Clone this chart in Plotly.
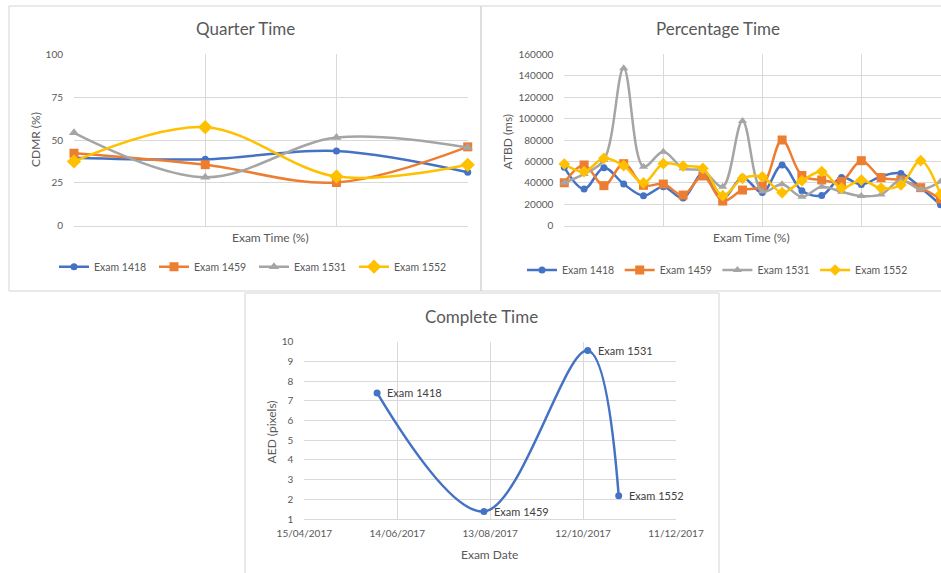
import plotly.graph_objects as go

W, H = 941, 573

# ---------------- DATA ----------------
series_names = ["Exam 1418", "Exam 1459", "Exam 1531", "Exam 1552"]
series_colors = ["#4472C4", "#ED7D31", "#A5A5A5", "#FFC000"]
series_symbols = ["circle", "square", "triangle-up", "diamond"]

# Quarter Time (CDMR %), 4 quarters
quarter_x = [0, 1, 2, 3]
quarter_vals = {
    "Exam 1418": [39.7, 38.8, 43.6, 31.2],
    "Exam 1459": [42.3, 35.6, 25.2, 46.0],
    "Exam 1531": [54.2, 28.3, 51.4, 45.6],
    "Exam 1552": [37.5, 57.5, 28.7, 35.5],
}

# Percentage Time (ATBD ms), visible points in 5% steps
pct_x = list(range(20))
pct_vals = {
    "Exam 1418": [54500, 34200, 54200, 38900, 28000, 36400, 25800, 49000, 25500, 45100,
                  30900, 56600, 32600, 28300, 45100, 38500, 46000, 48800, 35500, 19600],
    "Exam 1459": [40100, 56700, 37400, 57900, 37700, 38900, 28600, 46400, 23000, 33300,
                  37000, 80000, 46900, 42700, 41300, 60700, 44900, 42800, 35500, 25000],
    "Exam 1531": [40100, 48300, 61300, 146900, 55100, 69100, 53600, 51500, 36400, 97700,
                  32000, 38600, 27000, 36400, 31700, 27700, 29200, 42600, 34000, 41200],
    "Exam 1552": [57600, 50400, 62900, 56000, 39900, 57900, 55700, 53500, 28000, 44200,
                  45700, 30800, 42000, 50600, 35100, 42600, 35100, 38000, 60700, 29300],
}

# Complete Time (AED pixels)
complete_dates = ["2017-06-01", "2017-08-09", "2017-10-15", "2017-11-04"]
complete_vals = [7.4, 1.38, 9.55, 2.18]
complete_labels = ["Exam 1418", "Exam 1459", "Exam 1531", "Exam 1552"]

date_tickvals = ["2017-04-15", "2017-06-14", "2017-08-13", "2017-10-12", "2017-12-11"]
date_ticktext = ["15/04/2017", "14/06/2017", "13/08/2017", "12/10/2017", "11/12/2017"]

# ---------------- STYLE ----------------
FONT = "Lato"
TXT = "#595959"
GRID = "#d9d9d9"
BORDER = "#d4d4d4"


def px_x(p):
    return p / W


def px_y(p):
    return 1 - p / H


fig = go.Figure()

sizes_q = [7, 9, 9, 11]
sizes_p = [7, 9, 8, 9]

for i, name in enumerate(series_names):
    fig.add_trace(go.Scatter(
        x=quarter_x, y=quarter_vals[name], name=name,
        mode="lines+markers", line=dict(color=series_colors[i], width=2.5, shape="spline", smoothing=1),
        marker=dict(symbol=series_symbols[i], size=sizes_q[i], color=series_colors[i]),
        xaxis="x", yaxis="y", legend="legend", cliponaxis=False,
    ))

for i, name in enumerate(series_names):
    fig.add_trace(go.Scatter(
        x=pct_x, y=pct_vals[name], name=name,
        mode="lines+markers", line=dict(color=series_colors[i], width=2.5, shape="spline", smoothing=1),
        marker=dict(symbol=series_symbols[i], size=sizes_p[i], color=series_colors[i]),
        xaxis="x2", yaxis="y2", legend="legend2", cliponaxis=False,
    ))

fig.add_trace(go.Scatter(
    x=complete_dates, y=complete_vals,
    mode="lines+markers",
    line=dict(color="#4472C4", width=2.5, shape="spline", smoothing=1),
    marker=dict(symbol="circle", size=7, color="#4472C4"),
    xaxis="x3", yaxis="y3", showlegend=False, cliponaxis=False,
))
for d, v, lab in zip(complete_dates, complete_vals, complete_labels):
    fig.add_annotation(x=d, y=v, xref="x3", yref="y3", text=lab, showarrow=False,
                       xanchor="left", yanchor="middle", xshift=8,
                       font=dict(family=FONT, size=11, color="#404040"))

tickfont = dict(family=FONT, size=10, color=TXT)

common_x = dict(showgrid=True, gridcolor=GRID, gridwidth=1, zeroline=False,
                showline=True, linecolor=GRID, linewidth=1, ticks="", fixedrange=True)
common_y = dict(showgrid=True, gridcolor=GRID, gridwidth=1, zeroline=False,
                showline=False, ticks="", tickfont=tickfont, fixedrange=True,
                ticklabelstandoff=10)

ydom_top = [px_y(225.7), px_y(54.3)]

fig.update_layout(
    width=W, height=H,
    margin=dict(l=0, r=0, t=0, b=0, autoexpand=False),
    paper_bgcolor="white", plot_bgcolor="white",
    font=dict(family=FONT, color=TXT),
    xaxis=dict(domain=[px_x(74), px_x(467.7)], range=[0, 3], dtick=1, tick0=0,
               showticklabels=False, anchor="y", **common_x),
    yaxis=dict(domain=ydom_top, range=[0, 100], dtick=25, anchor="x", **common_y),
    xaxis2=dict(domain=[px_x(564.3), 1.0], range=[0, (941 - 564.3) / 19.8], dtick=5, tick0=0,
                showticklabels=False, anchor="y2", **common_x),
    yaxis2=dict(domain=ydom_top, range=[0, 160000], dtick=20000, tickformat="d",
                anchor="x2", **common_y),
    xaxis3=dict(domain=[px_x(304.3), px_x(676)], type="date",
                range=["2017-04-15", "2017-12-11"], tickvals=date_tickvals, ticktext=date_ticktext,
                tickfont=tickfont, anchor="y3", ticklabelstandoff=5, **common_x),
    yaxis3=dict(domain=[px_y(519), px_y(341.7)], range=[1, 10], dtick=1, anchor="x3", **common_y),
    legend=dict(orientation="h", x=px_x(54), xanchor="left", y=px_y(266.7), yanchor="middle",
                entrywidth=55, entrywidthmode="pixels", itemwidth=30,
                font=dict(family=FONT, size=10.5, color=TXT), bgcolor="rgba(0,0,0,0)"),
    legend2=dict(orientation="h", x=px_x(522), xanchor="left", y=px_y(270), yanchor="middle",
                 entrywidth=52.7, entrywidthmode="pixels", itemwidth=30,
                 font=dict(family=FONT, size=10.5, color=TXT), bgcolor="rgba(0,0,0,0)"),
)

# chart borders
borders = [(9, 6, 481, 291), (481, 6, 960, 291), (245, 293, 719, 590)]
for x0, y0, x1, y1 in borders:
    fig.add_shape(type="rect", xref="paper", yref="paper",
                  x0=px_x(x0), x1=px_x(x1), y0=px_y(y0), y1=px_y(y1),
                  line=dict(color=BORDER, width=1), fillcolor="rgba(0,0,0,0)", layer="below")

# titles and axis titles
texts = [
    ("Quarter Time", 245, 29, 17, 0),
    ("Percentage Time", 717.7, 29, 17, 0),
    ("Complete Time", 481.7, 316, 17, 0),
    ("Exam Time (%)", 270, 237, 12, 0),
    ("Exam Time (%)", 751.7, 237, 12, 0),
    ("Exam Date", 489.3, 554.3, 12, 0),
    ("CDMR (%)", 35, 140, 12, -90),
    ("ATBD (ms)", 507.7, 141.7, 12, -90),
    ("AED (pixels)", 271.7, 431.7, 12, -90),
]
for t, x, y, s, ang in texts:
    fig.add_annotation(text=t, x=px_x(x), y=px_y(y), xref="paper", yref="paper",
                       xanchor="center", yanchor="middle", showarrow=False, textangle=ang,
                       font=dict(family=FONT, size=s, color=TXT))

fig.write_html("out.html", config={"displayModeBar": False},
               post_script="document.body.style.margin='0';document.body.style.overflow='hidden';")
